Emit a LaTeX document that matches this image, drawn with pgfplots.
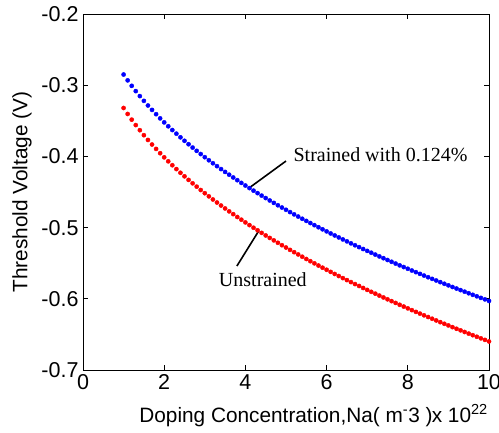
\documentclass[border=0pt]{standalone}
\usepackage{pgfplots}
\pgfplotsset{compat=1.18}
\usepackage{pgfplotstable}
\usepackage{fontspec}
\setmainfont{Liberation Sans}
\newfontfamily\timesfont{Liberation Serif}

% threshold voltage vs doping (x in 1e22 m^-3)
\pgfplotstableread{
x    strained unstrained
1.0  -0.2850  -0.3320
1.1  -0.2932  -0.3404
1.2  -0.3009  -0.3484
1.3  -0.3083  -0.3560
1.4  -0.3153  -0.3632
1.5  -0.3220  -0.3702
1.6  -0.3285  -0.3769
1.7  -0.3347  -0.3833
1.8  -0.3407  -0.3895
1.9  -0.3466  -0.3955
2.0  -0.3522  -0.4013
2.1  -0.3577  -0.4069
2.2  -0.3630  -0.4124
2.3  -0.3681  -0.4178
2.4  -0.3732  -0.4230
2.5  -0.3781  -0.4280
2.6  -0.3829  -0.4330
2.7  -0.3876  -0.4378
2.8  -0.3922  -0.4425
2.9  -0.3967  -0.4472
3.0  -0.4011  -0.4517
3.1  -0.4054  -0.4561
3.2  -0.4096  -0.4605
3.3  -0.4137  -0.4648
3.4  -0.4178  -0.4690
3.5  -0.4218  -0.4731
3.6  -0.4257  -0.4772
3.7  -0.4296  -0.4811
3.8  -0.4334  -0.4851
3.9  -0.4372  -0.4889
4.0  -0.4409  -0.4927
4.1  -0.4445  -0.4965
4.2  -0.4481  -0.5002
4.3  -0.4516  -0.5038
4.4  -0.4551  -0.5074
4.5  -0.4585  -0.5110
4.6  -0.4619  -0.5145
4.7  -0.4653  -0.5179
4.8  -0.4686  -0.5213
4.9  -0.4718  -0.5247
5.0  -0.4750  -0.5280
5.1  -0.4782  -0.5313
5.2  -0.4814  -0.5345
5.3  -0.4845  -0.5377
5.4  -0.4876  -0.5409
5.5  -0.4906  -0.5441
5.6  -0.4936  -0.5472
5.7  -0.4966  -0.5502
5.8  -0.4995  -0.5533
5.9  -0.5024  -0.5563
6.0  -0.5053  -0.5592
6.1  -0.5082  -0.5622
6.2  -0.5110  -0.5651
6.3  -0.5138  -0.5680
6.4  -0.5166  -0.5709
6.5  -0.5193  -0.5737
6.6  -0.5221  -0.5765
6.7  -0.5248  -0.5793
6.8  -0.5274  -0.5820
6.9  -0.5301  -0.5848
7.0  -0.5327  -0.5875
7.1  -0.5353  -0.5902
7.2  -0.5379  -0.5928
7.3  -0.5405  -0.5955
7.4  -0.5430  -0.5981
7.5  -0.5455  -0.6007
7.6  -0.5480  -0.6033
7.7  -0.5505  -0.6058
7.8  -0.5530  -0.6084
7.9  -0.5554  -0.6109
8.0  -0.5578  -0.6134
8.1  -0.5603  -0.6159
8.2  -0.5626  -0.6184
8.3  -0.5650  -0.6208
8.4  -0.5674  -0.6232
8.5  -0.5697  -0.6256
8.6  -0.5720  -0.6280
8.7  -0.5743  -0.6304
8.8  -0.5766  -0.6328
8.9  -0.5789  -0.6351
9.0  -0.5811  -0.6374
9.1  -0.5834  -0.6398
9.2  -0.5856  -0.6421
9.3  -0.5878  -0.6443
9.4  -0.5900  -0.6466
9.5  -0.5922  -0.6489
9.6  -0.5944  -0.6511
9.7  -0.5965  -0.6533
9.8  -0.5987  -0.6555
9.9  -0.6008  -0.6577
10.0 -0.6030  -0.6599
}\vthtable

\begin{document}
\begin{tikzpicture}
\useasboundingbox (0,0) rectangle (499pt,432pt);
\begin{axis}[
    at={(83pt,62pt)}, anchor=south west,
    scale only axis, width=406pt, height=356pt,
    xmin=0, xmax=10, ymin=-0.7, ymax=-0.2,
    xtick={0,2,4,6,8,10},
    ytick={-0.7,-0.6,-0.5,-0.4,-0.3,-0.2},
    yticklabels={-0.7,-0.6,-0.5,-0.4,-0.3,-0.2},
    tick align=inside, major tick length=5pt,
    axis line style={line width=0.8pt},
    every tick/.style={black, line width=0.8pt},
    ticklabel style={font=\fontsize{21.5}{23}\selectfont},
    /pgf/number format/assume math mode=true,
    xticklabel style={yshift=-1pt},
    yticklabel style={xshift=-1pt},
    xlabel={Doping Concentration,Na( m\textsuperscript{-}3 )},
    xlabel style={font=\fontsize{20.8}{22}\selectfont, at={(axis description cs:0.5,0)}, anchor=base, yshift=-52pt},
    ylabel={Threshold Voltage (V)},
    ylabel style={font=\fontsize{20.8}{22}\selectfont, at={(axis description cs:0,0.5)}, anchor=center, yshift=61pt},
    clip=false,
]
\addplot[blue, only marks, mark=*, mark size=2.1pt, mark options={draw=none, fill=blue}] table[x=x, y=strained] {\vthtable};
\addplot[red, only marks, mark=*, mark size=2.1pt, mark options={draw=none, fill=red}] table[x=x, y=unstrained] {\vthtable};

\draw[line width=1.6pt] (axis cs:5.0,-0.4065) -- (axis cs:4.09,-0.4444);
\draw[line width=1.6pt] (axis cs:3.79,-0.554) -- (axis cs:4.33,-0.5045);
\node[font=\timesfont\fontsize{20}{22}\selectfont, anchor=west] at (axis cs:5.1,-0.398) {Strained with 0.124\%};
\node[font=\timesfont\fontsize{20}{22}\selectfont] at (axis cs:4.43,-0.5736) {Unstrained};
\node[font=\fontsize{20.8}{22}\selectfont, anchor=base east, inner sep=0pt] at ([yshift=-52pt, xshift=-1pt]axis description cs:1,0) {x 10\textsuperscript{22}};
\end{axis}
\end{tikzpicture}
\end{document}
